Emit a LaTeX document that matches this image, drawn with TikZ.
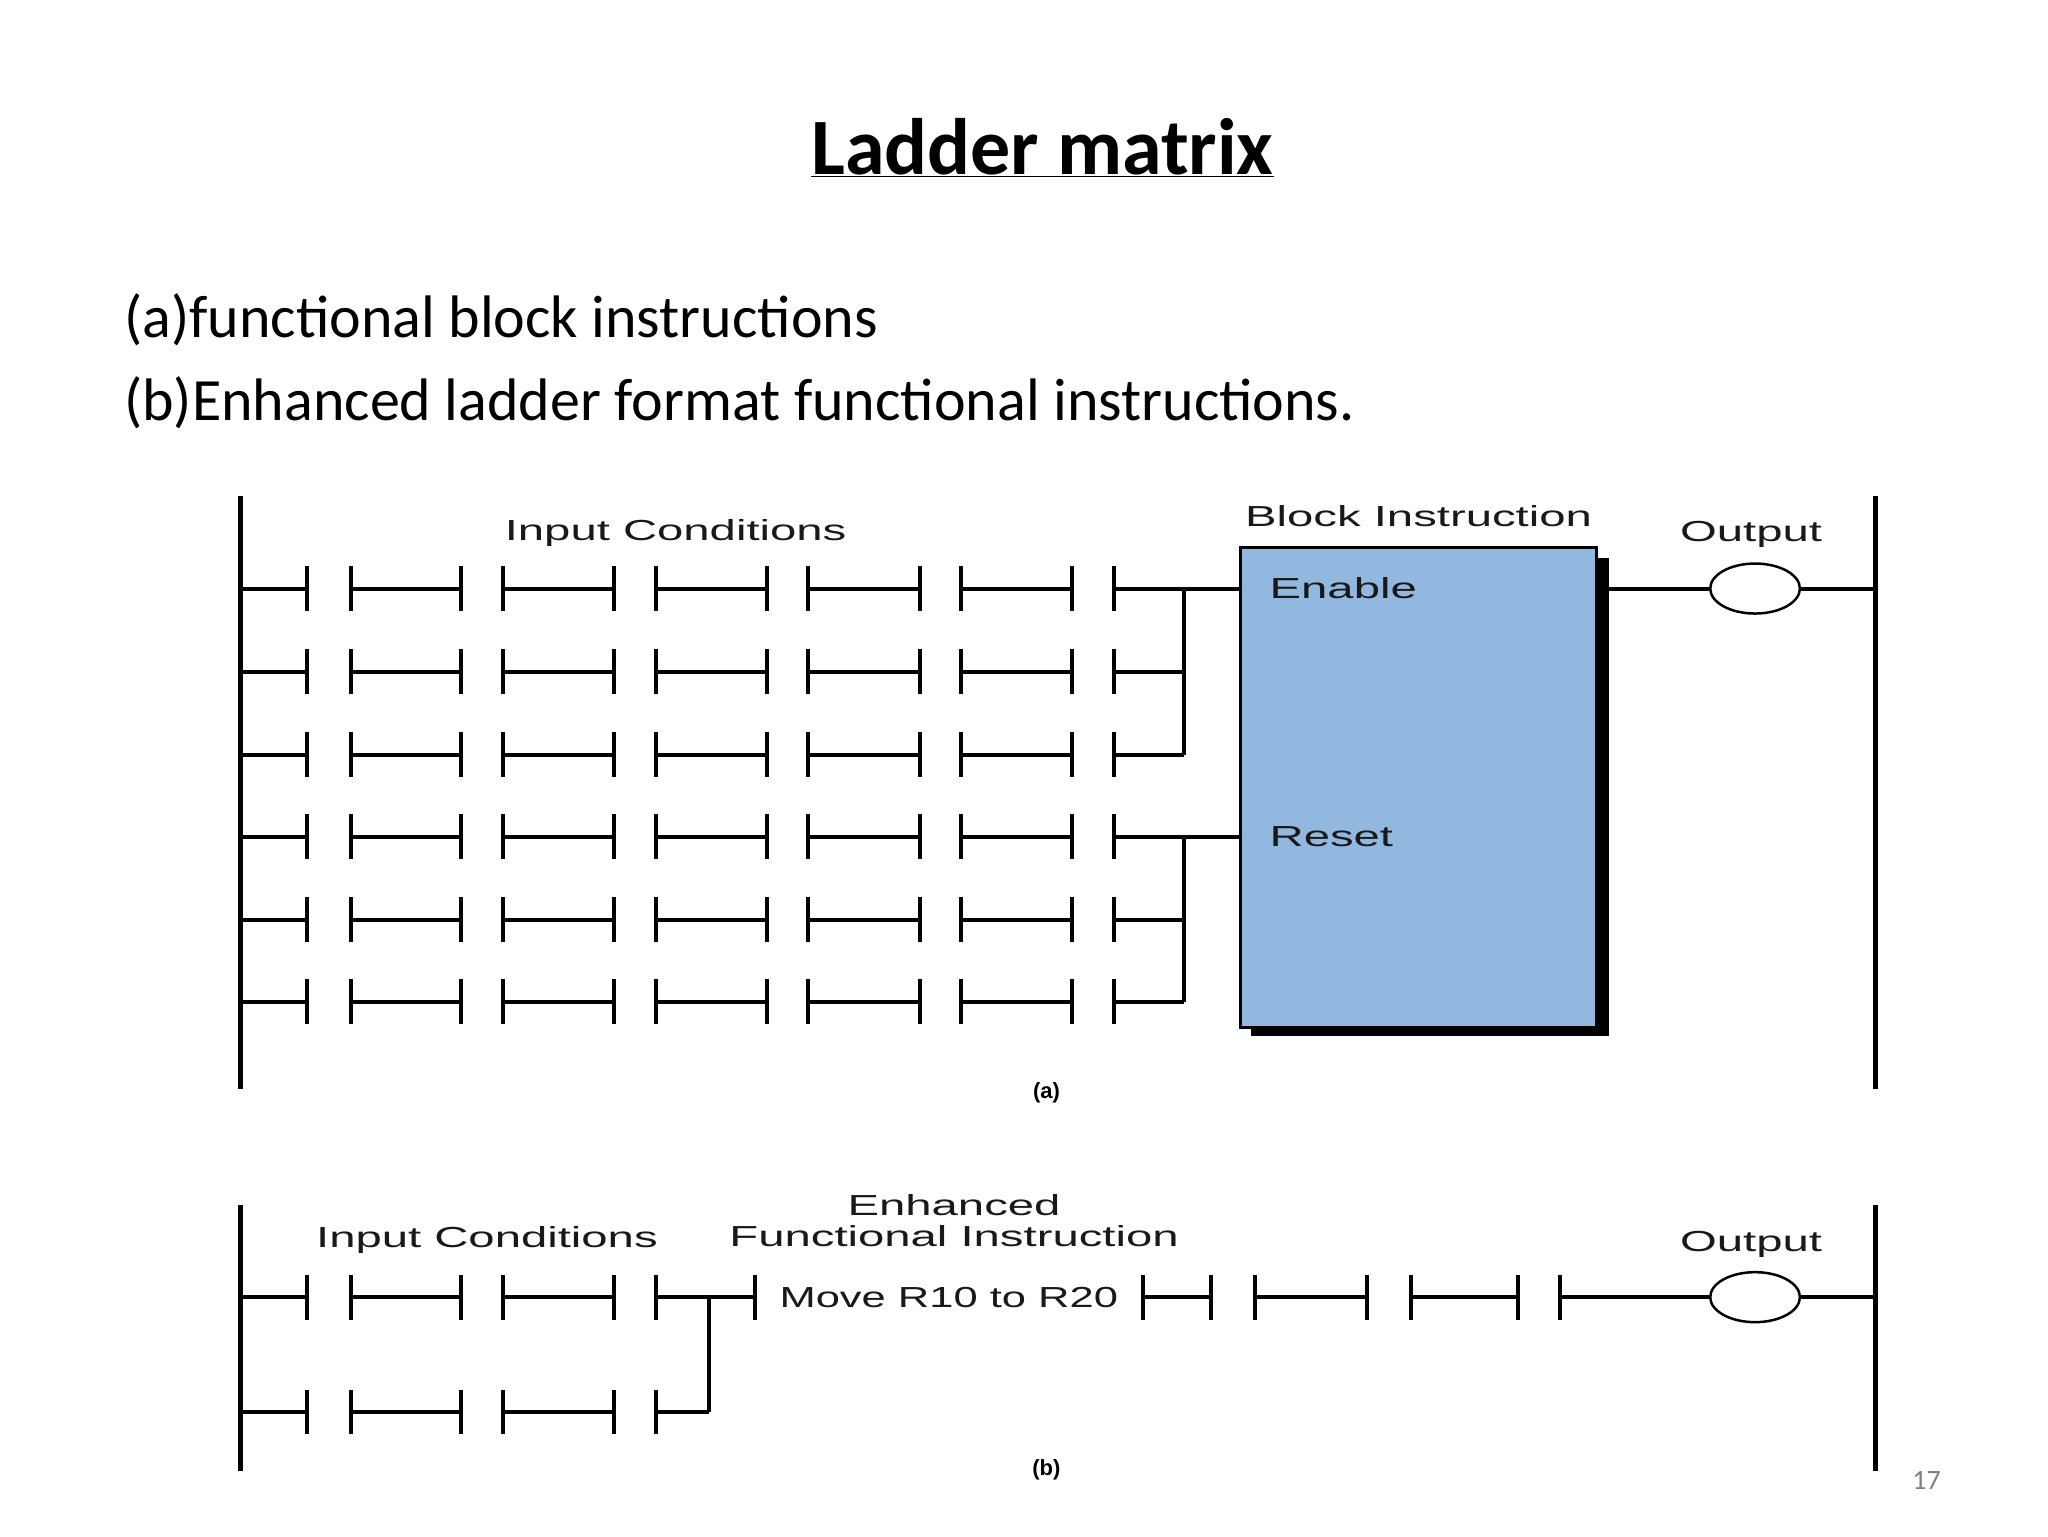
\documentclass[tikz,border=0pt]{standalone}
\usepackage{fontspec}
\usetikzlibrary{shapes.geometric}
\setmainfont{Carlito}
\newfontfamily\lblfam{Liberation Sans}
\definecolor{boxblue}{HTML}{93B8E0}
\newcommand{\lbl}[1]{\scalebox{1.63}[1]{#1}}
\begin{document}
\begin{tikzpicture}[x=1.3196pt,y=-1.3196pt,
  rail/.style={line width=5pt},
  wire/.style={line width=4pt},
  coil/.style={draw, line width=2.5pt, ellipse, minimum width=89.7pt, minimum height=50pt, inner sep=0pt},
  lab/.style={font=\lblfam\fontsize{29}{32}\selectfont, text=black!90, inner sep=0pt},
  body/.style={font=\fontsize{60}{70}\selectfont, anchor=west, inner sep=0pt}]
\useasboundingbox (0,0) rectangle (1552,1164);
% title and text
\node[font=\bfseries\fontsize{80}{90}\selectfont, inner sep=0pt] (title) at (790,112) {\underline{Ladder matrix}};
\node[body] (la) at (94,242) {(a)functional block instructions};
\node[body] (lb) at (94,305) {(b)Enhanced ladder format functional instructions.};
% ===== (a) =====
\draw[rail] (182,376) -- (182,825);
\draw[rail] (1421,376) -- (1421,825);
\foreach \y in {446,509,572,634,697,759}{
  \draw[wire] (182,\y) -- (233,\y) (266,\y) -- (349,\y) (381,\y) -- (465,\y)
    (497,\y) -- (581,\y) (612,\y) -- (697,\y) (728,\y) -- (812,\y) (844,\y) -- (897,\y);
  \foreach \x in {233,266,349,381,465,497,581,612,697,728,812,844}
    \draw[wire] (\x,\y-17) -- (\x,\y+17);
}
\draw[wire] (897,446) -- (897,572) (897,634) -- (897,759);
\draw[wire] (897,446) -- (940,446) (897,634) -- (940,634);
\fill[black] (948,423) rectangle (1219,785);
\draw[line width=3pt, fill=boxblue] (940,415) rectangle (1210,779);
\node[lab, anchor=west] (en) at (962,446) {\lbl{Enable}};
\node[lab, anchor=west] (rs) at (962,634) {\lbl{Reset}};
\node[lab] (bi) at (1075,391) {\lbl{Block Instruction}};
\node[lab] (ica) at (512,404) {\lbl{Input Conditions}};
\node[lab] (oa) at (1327,405) {\lbl{Output}};
\node[coil] (coila) at (1330,446) {};
\draw[wire] (1219,446) -- (coila.west) (coila.east) -- (1421,446);
\node[font=\lblfam\bfseries\fontsize{22}{24}\selectfont] (capa) at (793,828) {(a)};
% ===== (b) =====
\draw[rail] (182,913) -- (182,1115);
\draw[rail] (1421,913) -- (1421,1115);
\foreach \y in {983,1070}{
  \draw[wire] (182,\y) -- (233,\y) (266,\y) -- (349,\y) (381,\y) -- (465,\y) (497,\y) -- (537,\y);
  \foreach \x in {233,266,349,381,465,497}
    \draw[wire] (\x,\y-17) -- (\x,\y+17);
}
\draw[wire] (537,983) -- (537,1070) (537,983) -- (572,983);
\foreach \x in {572,866,918,951,1036,1069,1150,1182}
  \draw[wire] (\x,983-17) -- (\x,983+17);
\draw[wire] (866,983) -- (918,983) (951,983) -- (1036,983) (1069,983) -- (1150,983);
\node[lab] (mv) at (719,983) {\scalebox{1.5}[1]{Move R10 to R20}};
\node[coil] (coilb) at (1330,983) {};
\draw[wire] (1182,983) -- (coilb.west) (coilb.east) -- (1421,983);
\node[lab] (icb) at (369,940) {\lbl{Input Conditions}};
\node[lab] (enh) at (723,913) {\lbl{Enhanced}};
\node[lab] (fi) at (723,937) {\lbl{Functional Instruction}};
\node[lab] (ob) at (1327,943) {\lbl{Output}};
\node[font=\lblfam\bfseries\fontsize{22}{24}\selectfont] (capb) at (793,1114) {(b)};
\node[text=gray, font=\fontsize{28}{30}\selectfont] (pg) at (1460,1122) {17};
\end{tikzpicture}
\end{document}
